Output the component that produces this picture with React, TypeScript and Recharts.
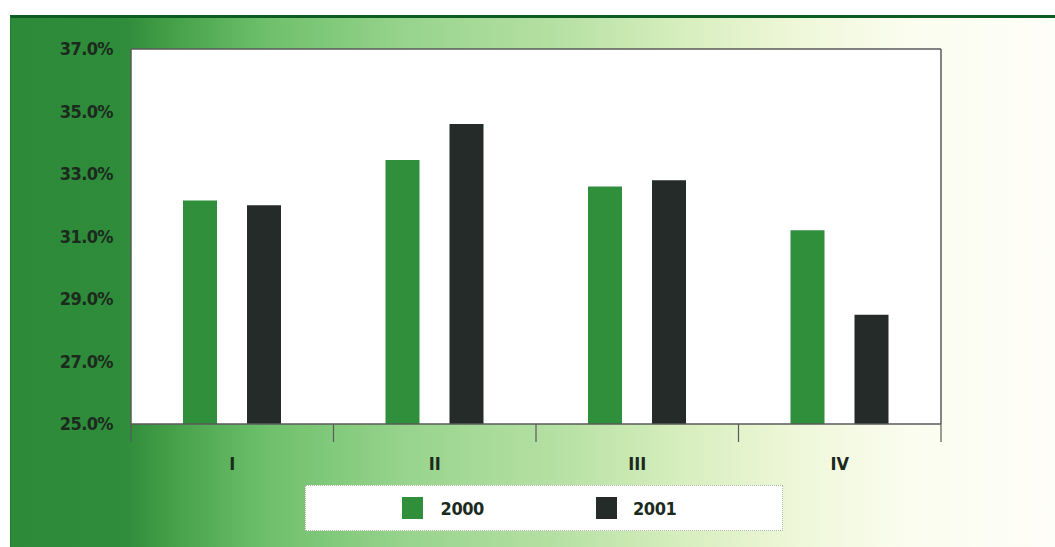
import React from "react";
import { BarChart, Bar, XAxis, YAxis, CartesianGrid, Legend } from "recharts";

const quarters = ["I", "II", "III", "IV"];
const share2000 = [32.15, 33.45, 32.6, 31.2];
const share2001 = [32.0, 34.6, 32.8, 28.5];
const yTicks = [25, 27, 29, 31, 33, 35, 37];

const data = quarters.map((q, i) => ({ q, y2000: share2000[i], y2001: share2001[i] }));

const font = "'Liberation Sans Narrow', 'DejaVu Sans Condensed', 'Roboto Condensed', sans-serif";
const ink = "#1c2a1e";
const axisGray = "#5a5a5a";

// tick lines only, no labels
const noLabel = () => <g />;

// category label plus tick marks on the band edges
const QuarterTick = (props: any) => {
  const { x, y, payload, index } = props;
  const half = payload.offset ?? 0;
  return (
    <g>
      <line x1={x - half} x2={x - half} y1={y} y2={y + 18} stroke={axisGray} strokeWidth={1.2} />
      {index === quarters.length - 1 && (
        <line x1={x + half} x2={x + half} y1={y} y2={y + 18} stroke={axisGray} strokeWidth={1.2} />
      )}
      <text x={x} y={y + 40} dy="0.35em" textAnchor="middle" fill={ink} fontFamily={font} fontWeight={700} fontSize={18}>
        {payload.value}
      </text>
    </g>
  );
};

const renderLegend = () => (
  <div
    style={{
      margin: "0 auto",
      width: 478,
      height: 46,
      paddingRight: 10,
      background: "#fff",
      border: "1px dotted #a9b9a0",
      boxSizing: "border-box",
      display: "flex",
      alignItems: "center",
      justifyContent: "center",
      fontFamily: font,
      fontWeight: 700,
      fontSize: 18,
      letterSpacing: -0.4,
      color: ink,
    }}
  >
    <span style={{ display: "inline-block", width: 21, height: 22, background: "#2f8f3b", marginRight: 18 }} />
    <span style={{ marginRight: 112 }}>2000</span>
    <span style={{ display: "inline-block", width: 21, height: 22, background: "#242b28", marginRight: 16 }} />
    <span>2001</span>
  </div>
);

export default function App() {
  return (
    <div style={{ position: "absolute", left: 0, top: 0, width: 1055, height: 547, background: "#fff" }}>
      <div
        style={{
          position: "absolute",
          left: 10,
          top: 15,
          right: 0,
          bottom: 0,
          borderTop: "3px solid #0d5c22",
          borderLeft: "1px solid #2a7a34",
          background:
            "linear-gradient(to right, #2d8a38 0%, #2f8c3a 11%, #3f9a44 14%, #6cbf6a 24%, #98d48d 38%, #b5e0a3 52%, #d6eebd 64%, #eef7d8 75%, #fbfdef 86%, #fefef8 100%)",
        }}
      />
      <div style={{ position: "absolute", left: 0, top: 0 }}>
        <BarChart
          width={1055}
          height={547}
          data={data}
          margin={{ top: 48, right: 113, bottom: 16, left: 0 }}
          barCategoryGap={53}
          barGap={30}
        >
          <CartesianGrid horizontal={false} vertical={false} fill="#ffffff" />
          <XAxis
            xAxisId="top"
            orientation="top"
            dataKey="q"
            height={1}
            tick={noLabel}
            tickLine={false}
            axisLine={{ stroke: axisGray, strokeWidth: 1.5 }}
          />
          <XAxis
            dataKey="q"
            height={61}
            tickLine={false}
            tickSize={0}
            tickMargin={0}
            interval={0}
            axisLine={{ stroke: axisGray, strokeWidth: 1.5 }}
            tick={<QuarterTick />}
          />
          <YAxis
            domain={[25, 37]}
            ticks={yTicks}
            width={131}
            tickLine={false}
            tickMargin={12}
            interval={0}
            axisLine={{ stroke: axisGray, strokeWidth: 1.5 }}
            tickFormatter={(v: number) => `${v.toFixed(1)}%`}
            tick={{ fill: ink, fontFamily: font, fontWeight: 700, fontSize: 18, letterSpacing: -0.6 }}
          />
          <YAxis
            yAxisId="right"
            orientation="right"
            width={1}
            tick={noLabel}
            tickLine={false}
            axisLine={{ stroke: axisGray, strokeWidth: 1.5 }}
          />
          <Legend content={renderLegend} verticalAlign="bottom" wrapperStyle={{ bottom: 16, left: 0, width: 1088 }} />
          <Bar dataKey="y2000" name="2000" fill="#2f8f3b" barSize={34} isAnimationActive={false} />
          <Bar dataKey="y2001" name="2001" fill="#242b28" barSize={34} isAnimationActive={false} />
        </BarChart>
      </div>
    </div>
  );
}
